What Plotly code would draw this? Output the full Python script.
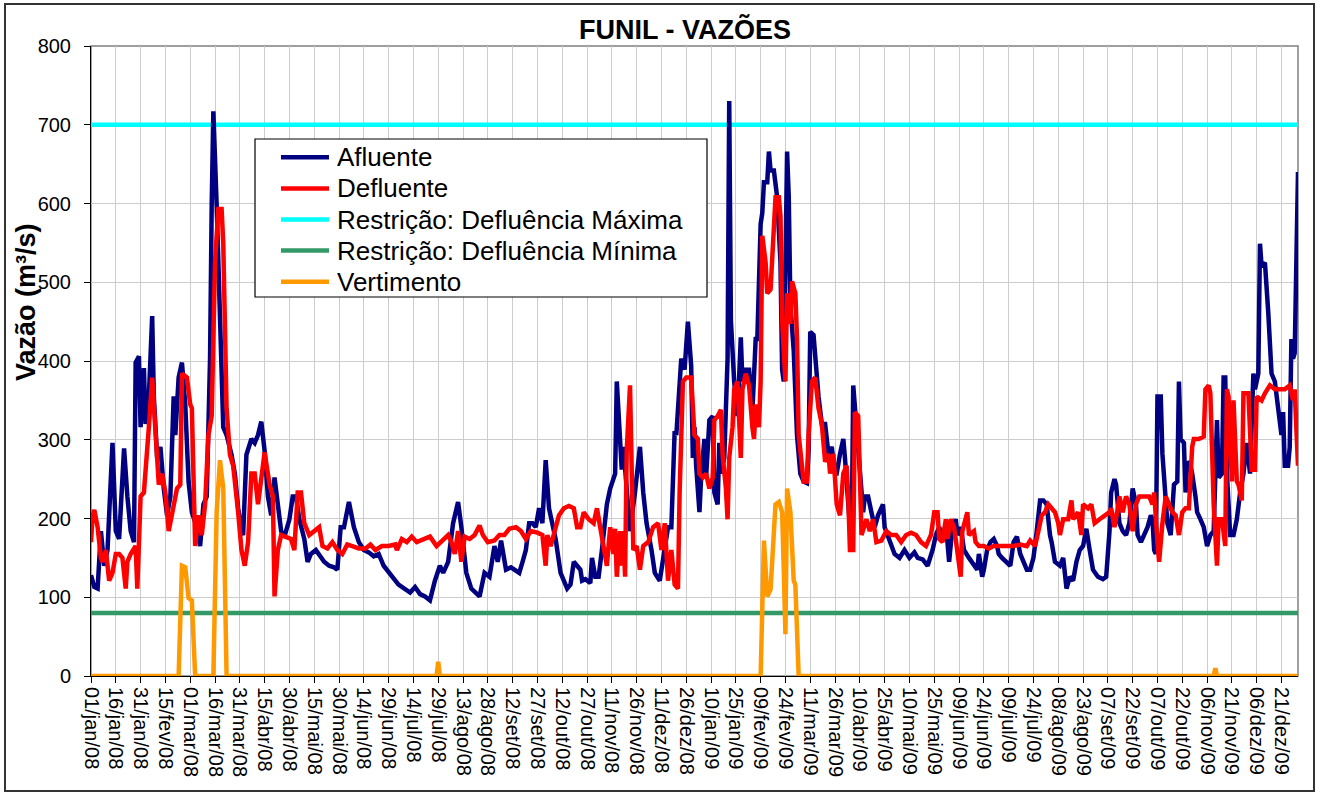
import pandas as pd
import plotly.graph_objects as go

inicio = pd.Timestamp("2008-01-01")
fim = pd.Timestamp("2009-12-31")

# ---------------- data (day offset from 01/jan/08, value m3/s) ----------------
afluente_dia = [0, 2, 4, 6, 8, 10, 13, 15, 17, 20, 22, 24, 26, 27, 29, 30, 32, 33, 35, 37, 38, 40, 42, 44, 46, 48, 50, 51, 53, 55, 57, 59, 61, 64, 66, 68, 70, 72, 73, 74, 76, 78, 80, 82, 85, 87, 89, 91, 92, 94, 97, 99, 101, 103, 105, 107, 109, 111, 113, 115, 117, 120, 122, 124, 126, 129, 131, 133, 136, 139, 141, 144, 147, 149, 151, 153, 156, 159, 162, 165, 168, 171, 174, 177, 180, 183, 186, 189, 193, 196, 199, 202, 205, 208, 211, 213, 216, 219, 222, 224, 227, 230, 233, 235, 238, 241, 244, 246, 248, 251, 254, 257, 259, 261, 263, 265, 267, 269, 271, 273, 275, 277, 279, 281, 284, 286, 288, 290, 292, 294, 296, 297, 299, 302, 303, 305, 307, 309, 312, 314, 316, 317, 318, 320, 321, 322, 324, 326, 329, 332, 334, 336, 339, 341, 344, 347, 349, 351, 353, 354, 356, 357, 359, 361, 363, 364, 365, 366, 368, 369, 371, 372, 374, 376, 377, 379, 380, 381, 383, 385, 386, 387, 389, 391, 393, 394, 396, 398, 400, 402, 403, 405, 406, 407, 409, 410, 411, 413, 415, 417, 418, 419, 421, 422, 423, 425, 427, 429, 431, 433, 434, 435, 437, 438, 440, 442, 444, 446, 448, 450, 451, 453, 455, 456, 458, 460, 461, 463, 465, 467, 468, 470, 472, 474, 476, 479, 480, 483, 486, 489, 492, 495, 498, 500, 503, 506, 509, 511, 513, 515, 517, 519, 521, 523, 524, 526, 528, 531, 534, 536, 537, 539, 540, 542, 544, 546, 548, 549, 551, 554, 556, 558, 560, 562, 564, 566, 568, 570, 572, 574, 576, 578, 580, 581, 583, 586, 588, 590, 592, 594, 596, 598, 600, 602, 604, 606, 609, 612, 614, 616, 617, 619, 620, 622, 624, 626, 628, 630, 632, 633, 635, 637, 639, 641, 642, 643, 644, 645, 647, 648, 650, 651, 653, 655, 657, 658, 659, 661, 662, 663, 665, 666, 668, 669, 671, 673, 675, 677, 679, 681, 682, 684, 685, 686, 687, 689, 691, 693, 695, 697, 699, 701, 703, 704, 706, 707, 708, 710, 712, 714, 716, 718, 720, 721, 722, 724, 725, 726, 727, 728, 729, 730]
afluente_vazao = [128, 113, 111, 184, 140, 160, 296, 184, 174, 289, 228, 184, 170, 398, 406, 316, 391, 320, 355, 457, 355, 277, 291, 238, 204, 228, 355, 306, 379, 398, 345, 247, 208, 189, 165, 218, 228, 403, 598, 717, 598, 442, 316, 306, 281, 257, 213, 184, 179, 281, 301, 296, 306, 323, 286, 228, 204, 252, 218, 184, 177, 199, 228, 228, 199, 174, 145, 155, 160, 152, 145, 140, 138, 135, 189, 189, 221, 189, 170, 160, 157, 152, 155, 140, 131, 124, 116, 111, 106, 113, 104, 101, 96, 121, 140, 131, 145, 194, 221, 189, 131, 111, 106, 101, 131, 126, 165, 145, 172, 135, 138, 133, 131, 145, 160, 194, 194, 189, 213, 194, 274, 213, 190, 174, 131, 121, 111, 116, 145, 140, 135, 121, 123, 118, 150, 126, 126, 160, 218, 238, 252, 257, 374, 291, 262, 291, 238, 184, 233, 291, 233, 194, 160, 131, 121, 160, 189, 189, 311, 306, 389, 403, 389, 450, 394, 277, 316, 267, 208, 252, 301, 252, 325, 330, 233, 218, 296, 257, 277, 403, 730, 452, 374, 330, 430, 374, 389, 389, 335, 428, 428, 574, 588, 627, 627, 666, 642, 642, 608, 525, 389, 374, 666, 608, 472, 413, 306, 257, 247, 245, 286, 437, 433, 403, 355, 320, 320, 282, 291, 257, 257, 282, 301, 277, 218, 160, 369, 316, 257, 208, 228, 228, 208, 189, 204, 218, 189, 170, 155, 150, 160, 150, 157, 150, 148, 140, 160, 179, 189, 174, 194, 145, 189, 199, 179, 189, 160, 150, 140, 135, 155, 126, 135, 160, 170, 174, 165, 155, 150, 145, 140, 170, 177, 155, 145, 135, 135, 150, 184, 223, 223, 218, 179, 170, 145, 140, 150, 111, 126, 121, 145, 160, 165, 187, 160, 135, 126, 123, 126, 184, 233, 250, 243, 194, 184, 179, 194, 238, 218, 179, 170, 179, 189, 204, 199, 160, 155, 355, 355, 282, 208, 194, 179, 243, 247, 374, 301, 296, 233, 272, 267, 257, 228, 208, 199, 189, 165, 179, 184, 325, 252, 257, 379, 379, 257, 179, 179, 199, 233, 257, 296, 257, 384, 364, 384, 549, 520, 525, 462, 384, 374, 340, 306, 335, 267, 267, 291, 428, 403, 410, 549, 640]

defluente_dia = [0, 1, 2, 4, 6, 7, 9, 11, 13, 15, 17, 19, 21, 22, 24, 27, 28, 29, 30, 32, 34, 35, 37, 39, 41, 43, 45, 47, 50, 52, 54, 55, 58, 60, 61, 63, 65, 67, 69, 71, 73, 75, 77, 79, 80, 82, 84, 86, 89, 91, 93, 95, 97, 99, 101, 103, 105, 108, 110, 111, 113, 115, 118, 121, 123, 125, 127, 129, 132, 135, 138, 140, 143, 146, 149, 152, 155, 158, 162, 166, 169, 172, 176, 180, 184, 185, 188, 191, 194, 197, 201, 205, 209, 213, 216, 218, 220, 222, 224, 226, 229, 232, 235, 237, 240, 244, 247, 250, 253, 257, 260, 263, 266, 270, 273, 275, 276, 278, 280, 283, 286, 289, 292, 294, 296, 298, 301, 304, 306, 309, 312, 314, 316, 317, 318, 320, 321, 322, 323, 324, 326, 328, 330, 332, 334, 337, 340, 343, 345, 347, 349, 351, 353, 355, 356, 358, 360, 363, 364, 365, 367, 368, 370, 372, 374, 376, 377, 379, 381, 382, 384, 385, 386, 388, 389, 391, 393, 394, 396, 398, 400, 401, 402, 404, 405, 406, 408, 409, 411, 413, 414, 416, 417, 418, 420, 421, 423, 424, 426, 427, 428, 431, 433, 434, 436, 438, 440, 442, 444, 446, 447, 449, 451, 453, 455, 457, 458, 459, 461, 462, 464, 465, 466, 469, 471, 473, 475, 478, 481, 484, 487, 490, 493, 496, 499, 502, 505, 508, 510, 512, 513, 515, 517, 518, 520, 522, 524, 526, 527, 530, 531, 534, 535, 537, 540, 543, 546, 549, 551, 554, 558, 562, 566, 568, 571, 573, 575, 577, 579, 581, 583, 585, 586, 588, 591, 593, 594, 597, 599, 600, 603, 605, 607, 610, 613, 616, 617, 619, 621, 622, 624, 626, 628, 630, 632, 634, 637, 640, 642, 643, 645, 646, 648, 650, 652, 654, 656, 658, 660, 662, 664, 665, 666, 667, 670, 673, 674, 676, 677, 679, 681, 682, 684, 686, 687, 688, 690, 691, 693, 694, 696, 697, 700, 702, 704, 705, 708, 710, 713, 716, 719, 722, 725, 727, 728, 730]
defluente_vazao = [170, 204, 211, 189, 150, 145, 160, 121, 131, 155, 155, 150, 111, 145, 155, 165, 111, 184, 228, 233, 281, 316, 379, 316, 243, 257, 233, 184, 218, 238, 243, 384, 379, 345, 340, 165, 204, 179, 218, 306, 330, 525, 593, 593, 549, 340, 281, 267, 208, 160, 140, 170, 257, 257, 218, 247, 284, 243, 228, 101, 160, 179, 177, 174, 160, 233, 233, 194, 179, 184, 189, 165, 162, 170, 160, 155, 167, 165, 162, 162, 167, 160, 165, 165, 167, 160, 174, 170, 177, 170, 174, 177, 165, 174, 179, 170, 155, 184, 145, 177, 174, 179, 191, 179, 170, 172, 179, 179, 187, 189, 184, 174, 184, 182, 179, 140, 179, 165, 179, 204, 213, 216, 213, 189, 189, 208, 199, 194, 213, 179, 140, 189, 155, 187, 126, 184, 140, 184, 126, 286, 369, 160, 165, 135, 165, 170, 189, 194, 160, 194, 121, 160, 116, 111, 233, 374, 379, 379, 325, 306, 301, 257, 252, 257, 238, 252, 325, 330, 338, 281, 238, 199, 277, 316, 364, 374, 277, 364, 384, 369, 316, 301, 345, 316, 374, 559, 525, 486, 491, 584, 608, 608, 584, 452, 374, 486, 447, 501, 486, 428, 306, 247, 247, 306, 374, 379, 340, 320, 272, 282, 257, 282, 218, 204, 257, 267, 228, 160, 160, 335, 330, 257, 179, 199, 184, 199, 170, 172, 184, 179, 179, 170, 179, 182, 179, 170, 165, 179, 208, 208, 174, 170, 199, 174, 199, 189, 160, 126, 184, 208, 179, 184, 170, 165, 165, 162, 165, 165, 165, 165, 165, 167, 165, 172, 165, 184, 204, 208, 218, 213, 208, 194, 179, 199, 199, 223, 199, 208, 179, 218, 213, 218, 194, 199, 204, 208, 213, 189, 213, 228, 208, 228, 218, 184, 218, 228, 228, 228, 218, 233, 170, 145, 194, 228, 218, 208, 204, 179, 208, 213, 213, 247, 291, 301, 301, 304, 364, 369, 359, 218, 140, 199, 199, 165, 364, 355, 247, 350, 247, 243, 223, 359, 359, 262, 262, 355, 350, 359, 369, 364, 364, 364, 369, 350, 364, 267]

vertimento_dia = [0, 53, 55, 57, 59, 61, 63, 74, 76, 78, 80, 82, 209, 210, 211, 405, 407, 409, 411, 413, 414, 416, 418, 419, 420, 421, 423, 425, 426, 428, 679, 680, 681, 730]
vertimento_vazao = [0, 0, 140, 138, 99, 96, 0, 0, 208, 274, 238, 0, 0, 18, 0, 0, 172, 101, 110, 184, 218, 221, 208, 135, 53, 238, 208, 121, 116, 0, 0, 10, 0, 0]

restricao_maxima = 700
restricao_minima = 80

meses = ["jan", "fev", "mar", "abr", "mai", "jun", "jul", "ago", "set", "out", "nov", "dez"]
intervalo_ticks_dias = 15
y_ticks = [0, 100, 200, 300, 400, 500, 600, 700, 800]

nomes = ["Afluente", "Defluente", "Restrição: Defluência Máxima", "Restrição: Defluência Mínima", "Vertimento"]
cores = ["#000080", "#FF0000", "#00FFFF", "#339966", "#FF9900"]


def datas(dias):
    return [inicio + pd.Timedelta(days=d) for d in dias]


tick_datas = pd.date_range(inicio, fim, freq=f"{intervalo_ticks_dias}D")
tick_textos = [f"{d.day:02d}/{meses[d.month - 1]}/{d.strftime('%y')}" for d in tick_datas]

FONT = "Arial, Liberation Sans, sans-serif"
LW = 4.5

series = [
    (datas(afluente_dia), afluente_vazao),
    (datas(defluente_dia), defluente_vazao),
    ([inicio, fim], [restricao_maxima, restricao_maxima]),
    ([inicio, fim], [restricao_minima, restricao_minima]),
    (datas(vertimento_dia), vertimento_vazao),
]
draw_order = [2, 3, 0, 1, 4]

fig = go.Figure()
for i in draw_order:
    xs, ys = series[i]
    fig.add_trace(go.Scatter(x=xs, y=ys, mode="lines", name=nomes[i], showlegend=False,
                             line=dict(color=cores[i], width=LW)))

L, R, T, B = 91, 22, 46, 116
W, H = 1320, 792
pw, ph = W - L - R, H - T - B


def px_x(x):
    return (x - L) / pw


def px_y(y):
    return (H - B - y) / ph


fig.update_layout(
    width=W, height=H, autosize=False,
    margin=dict(l=L, r=R, t=T, b=B, pad=0),
    paper_bgcolor="white", plot_bgcolor="white",
    font=dict(family=FONT, color="black"),
    showlegend=False,
    title=dict(text="<b>FUNIL - VAZÕES</b>", x=px_x(685), xref="paper", xanchor="center",
               y=1 - 30 / H, yref="container", yanchor="middle",
               font=dict(size=27, family=FONT, color="black")),
    xaxis=dict(range=[inicio, fim], type="date", tickmode="array", tickvals=list(tick_datas),
               ticktext=tick_textos, tickangle=90, tickfont=dict(size=20, family=FONT),
               showgrid=True, gridcolor="#cccccc", gridwidth=1,
               showline=True, linecolor="black", linewidth=1,
               ticks="outside", ticklen=6, tickcolor="black", zeroline=False, automargin=False),
    yaxis=dict(range=[0, 800], tickmode="array", tickvals=y_ticks, tickfont=dict(size=20, family=FONT),
               showgrid=True, gridcolor="#cccccc", gridwidth=1,
               showline=True, linecolor="black", linewidth=1, ticklabelstandoff=9,
               ticks="outside", ticklen=6, tickcolor="black", zeroline=False, automargin=False),
)

# y-axis title
fig.add_annotation(text="<b>Vazão (m³/s)</b>", x=px_x(26), y=px_y(302), xref="paper", yref="paper",
                   textangle=-90, showarrow=False, font=dict(size=27, family=FONT, color="black"),
                   xanchor="center", yanchor="middle")

# plot-area border (gray) and outer chart border
fig.add_shape(type="rect", xref="paper", yref="paper", x0=0, x1=1, y0=0, y1=1,
              line=dict(color="#808080", width=1.5), layer="below")
fig.add_shape(type="rect", xref="paper", yref="paper", x0=px_x(5), x1=px_x(1314), y0=px_y(791), y1=px_y(4),
              line=dict(color="#333333", width=2), layer="above")

# legend box (drawn manually to match the original layout)
leg_left, leg_top, leg_right, leg_bottom = 255, 139, 707, 297
fig.add_shape(type="rect", xref="paper", yref="paper", x0=px_x(leg_left), x1=px_x(leg_right),
              y0=px_y(leg_bottom), y1=px_y(leg_top), line=dict(color="black", width=1.2),
              fillcolor="white", layer="above")
row_y0, row_step = 157.3, 31.1
for k, (nome, cor) in enumerate(zip(nomes, cores)):
    yy = px_y(row_y0 + k * row_step)
    fig.add_shape(type="line", xref="paper", yref="paper", x0=px_x(281), x1=px_x(329), y0=yy, y1=yy,
                  line=dict(color=cor, width=LW), layer="above")
    fig.add_annotation(text=nome, x=px_x(335), y=yy, xref="paper", yref="paper", showarrow=False,
                       xanchor="left", yanchor="middle", font=dict(size=26, family=FONT, color="black"))

fig.write_html("out.html", config={"displayModeBar": False},
               post_script="document.body.style.margin='0px';document.body.style.padding='0px';")
